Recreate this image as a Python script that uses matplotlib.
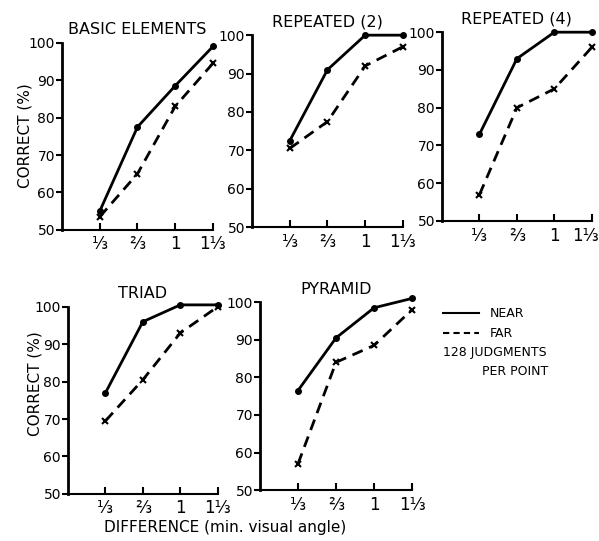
import numpy as np
import matplotlib.pyplot as plt
import matplotlib.transforms as mtransforms

# valores
diff = [1/3, 2/3, 1, 4/3]
xtick_labels = ['⅓', '⅔', '1', '1⅓']
yticks = [50, 60, 70, 80, 90, 100]

titles = ['BASIC ELEMENTS', 'REPEATED (2)', 'REPEATED (4)', 'TRIAD', 'PYRAMID']
near_basic = [55, 77.5, 88.5, 99]
far_basic = [53.5, 65, 83, 94.5]
near_rep2 = [72.5, 91, 100, 100]
far_rep2 = [70.5, 77.5, 92, 97]
near_rep4 = [73, 93, 100, 100]
far_rep4 = [57, 80, 85, 96]
near_triad = [77, 96, 100.5, 100.5]
far_triad = [69.5, 80.5, 93, 100]
near_pyr = [76.5, 90.5, 98.5, 101]
far_pyr = [57, 84, 88.5, 98]

near_all = [near_basic, near_rep2, near_rep4, near_triad, near_pyr]
far_all = [far_basic, far_rep2, far_rep4, far_triad, far_pyr]

# posiciones de los paneles (fraccion de figura)
boxes = [
    [0.1035, 0.575, 0.252, 0.346],
    [0.4207, 0.580, 0.252, 0.355],
    [0.738, 0.5915, 0.250, 0.349],
    [0.1135, 0.087, 0.250, 0.346],
    [0.434, 0.094, 0.254, 0.3475],
]

plt.rcParams['font.family'] = 'DejaVu Sans'
fig = plt.figure(figsize=(5.99, 5.41), dpi=100)

for i in range(5):
    ax = fig.add_axes(boxes[i])
    ax.plot(diff, near_all[i], color='black', lw=2, marker='o', ms=4, clip_on=False)
    ax.plot(diff, far_all[i], color='black', lw=2, ls=(0, (4, 2.5)), marker='x',
            ms=4, mew=1.5, clip_on=False)
    ax.set_xlim(0, 4/3)
    ax.set_ylim(50, 100)
    ax.set_xticks(diff)
    ax.set_xticklabels(xtick_labels, fontsize=12)
    ax.set_yticks(yticks)
    ax.set_yticklabels([str(v) for v in yticks], fontsize=10)
    ax.spines['top'].set_visible(False)
    ax.spines['right'].set_visible(False)
    ax.spines['left'].set_linewidth(2)
    ax.spines['bottom'].set_linewidth(1.5)
    ax.tick_params(axis='x', direction='in', length=5, width=1.5, pad=4)
    ax.tick_params(axis='y', direction='out', length=4, width=1.5, pad=1)
    ax.set_title(titles[i], fontsize=11.5, pad=6)
    if i == 2:
        # la ultima etiqueta queda justo en el borde
        last = ax.get_xticklabels()[-1]
        last.set_transform(last.get_transform() +
                           mtransforms.ScaledTranslation(-6 / 100, 0, fig.dpi_scale_trans))

fig.text(0.042, 0.75, 'CORRECT (%)', rotation=90, fontsize=11, ha='center', va='center')
fig.text(0.058, 0.29, 'CORRECT (%)', rotation=90, fontsize=11, ha='center', va='center')
fig.text(0.375, 0.025, 'DIFFERENCE (min. visual angle)', fontsize=11, ha='center', va='center')

# leyenda dibujada a mano
fig.add_artist(plt.Line2D([0.74, 0.80], [0.421, 0.421], color='black', lw=1.5))
fig.add_artist(plt.Line2D([0.74, 0.80], [0.384, 0.384], color='black', lw=1.5, ls=(0, (3, 2))))
fig.text(0.817, 0.421, 'NEAR', fontsize=9, va='center')
fig.text(0.817, 0.384, 'FAR', fontsize=9, va='center')
fig.text(0.74, 0.349, '128 JUDGMENTS', fontsize=9, va='center')
fig.text(0.805, 0.313, 'PER POINT', fontsize=9, va='center')

fig.savefig('out.png', dpi=100)
